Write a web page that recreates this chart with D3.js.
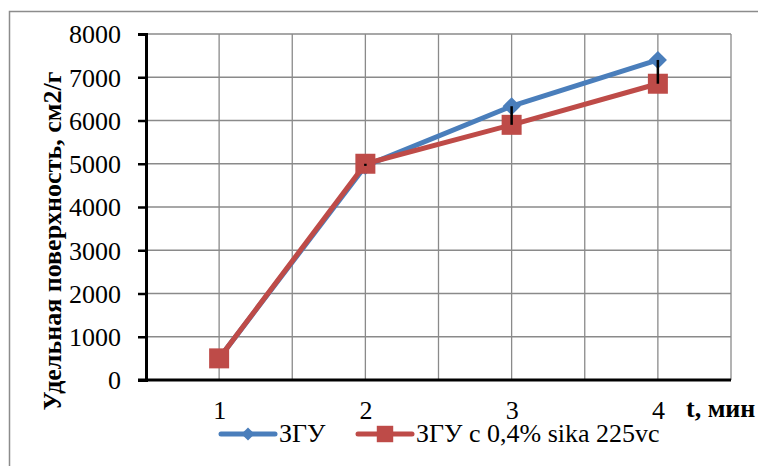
<!DOCTYPE html>
<html>
<head>
<meta charset="utf-8">
<script src="https://cdn.jsdelivr.net/npm/d3@7"></script>
<style>
  html, body { margin: 0; padding: 0; background: #fff; }
  svg { display: block; }
  svg text { font-family: 'Liberation Serif', 'Times New Roman', serif; fill: #000; }
</style>
</head>
<body>
<svg id="chart" width="758" height="466"></svg>
<script>
// Specific surface vs. grinding time
const categories = [1, 2, 3, 4];
const seriesNames = ["ЗГУ", "ЗГУ с 0,4% sika 225vc"];
const zguValues = [500, 4950, 6330, 7400];
const sikaValues = [500, 5000, 5900, 6850];
const yTicks = [0, 1000, 2000, 3000, 4000, 5000, 6000, 7000, 8000];
const yTitle = "Удельная поверхность, см2/г";
const xTitle = "t, мин";

const colors = ["#4a7ebb", "#be4b48"];

const svg = d3.select("#chart");
const W = 758, H = 466;
const plot = { left: 146, top: 34, right: 731, bottom: 380 };
const FS = 26;

// outer chart frame
svg.append("rect")
  .attr("x", 9.5).attr("y", 11.5)
  .attr("width", W + 10).attr("height", H + 10)
  .attr("fill", "#fff").attr("stroke", "#8c8c8c").attr("stroke-width", 1.5);

const x = d3.scaleLinear().domain([0.5, 4.5]).range([plot.left, plot.right]);
const y = d3.scaleLinear().domain([0, 8000]).range([plot.bottom, plot.top]);

// gridlines
const g = svg.append("g");
const xGrid = d3.range(0.5, 4.51, 0.5);
g.selectAll(".vg").data(xGrid).join("line")
  .attr("x1", d => x(d)).attr("x2", d => x(d))
  .attr("y1", plot.top).attr("y2", plot.bottom)
  .attr("stroke", "#8a8a8a").attr("stroke-width", 1.3);
g.selectAll(".hg").data(yTicks).join("line")
  .attr("x1", plot.left).attr("x2", plot.right)
  .attr("y1", d => y(d)).attr("y2", d => y(d))
  .attr("stroke", "#8a8a8a").attr("stroke-width", 1.3);

// y axis
const yAxis = d3.axisLeft(y).tickValues(yTicks).tickSize(8).tickPadding(17)
  .tickFormat(d3.format("d"));
const ya = svg.append("g").attr("transform", `translate(${plot.left},0)`).call(yAxis)
  .attr("font-family", null).attr("font-size", null);
ya.select(".domain").attr("stroke", "#000").attr("stroke-width", 3);
ya.selectAll(".tick line").attr("stroke", "#000").attr("stroke-width", 2.5);
ya.selectAll(".tick text").attr("font-size", FS).attr("dy", "0.34em");

// x axis
const xAxis = d3.axisBottom(x).tickValues(categories).tickSize(0).tickPadding(21)
  .tickFormat(d3.format("d"));
const xa = svg.append("g").attr("transform", `translate(0,${plot.bottom})`).call(xAxis)
  .attr("font-family", null).attr("font-size", null);
xa.select(".domain").attr("stroke", "none");
xa.selectAll(".tick text").attr("font-size", FS);
svg.append("line")
  .attr("x1", plot.left - 8).attr("x2", plot.right)
  .attr("y1", plot.bottom).attr("y2", plot.bottom)
  .attr("stroke", "#000").attr("stroke-width", 3);

// axis titles
svg.append("text")
  .attr("transform", `translate(61,241) rotate(-90)`)
  .attr("text-anchor", "middle")
  .attr("font-weight", "bold").attr("font-size", FS)
  .text(yTitle);
svg.append("text")
  .attr("x", 686).attr("y", 417)
  .attr("font-weight", "bold").attr("font-size", FS)
  .text(xTitle);

// series
const seriesData = [zguValues, sikaValues];
const line = d3.line().x((d, i) => x(categories[i])).y(d => y(d));
const diamond = d3.symbol().type(d3.symbolDiamond2).size(210);
const square = d3.symbol().type(d3.symbolSquare).size(400);

seriesData.forEach((vals, s) => {
  svg.append("path").datum(vals)
    .attr("d", line)
    .attr("fill", "none").attr("stroke", colors[s])
    .attr("stroke-width", 5).attr("stroke-linejoin", "round");
  svg.selectAll(".m" + s).data(vals).join("path")
    .attr("transform", (d, i) => `translate(${x(categories[i])},${y(d)})`)
    .attr("d", s === 0 ? diamond : square)
    .attr("fill", colors[s]);
});

// high-low lines between the two series
svg.selectAll(".hl").data(categories).join("line")
  .attr("x1", d => x(d)).attr("x2", d => x(d))
  .attr("y1", (d, i) => y(Math.max(zguValues[i], sikaValues[i])))
  .attr("y2", (d, i) => y(Math.min(zguValues[i], sikaValues[i])))
  .attr("stroke", "#000").attr("stroke-width", 2.5);

// legend
const legend = svg.append("g");
const legendItems = [
  { name: seriesNames[0], color: colors[0], sym: d3.symbol().type(d3.symbolDiamond2).size(110), x0: 221 },
  { name: seriesNames[1], color: colors[1], sym: d3.symbol().type(d3.symbolSquare).size(270), x0: 358 }
];
const ly = 434;
legendItems.forEach(it => {
  legend.append("line")
    .attr("x1", it.x0).attr("x2", it.x0 + 54)
    .attr("y1", ly).attr("y2", ly)
    .attr("stroke", it.color).attr("stroke-width", 5).attr("stroke-linecap", "round");
  legend.append("path")
    .attr("transform", `translate(${it.x0 + 27},${ly})`)
    .attr("d", it.sym).attr("fill", it.color);
  legend.append("text")
    .attr("x", it.x0 + 58).attr("y", ly + 8)
    .attr("font-size", FS)
    .text(it.name);
});
</script>
</body>
</html>
